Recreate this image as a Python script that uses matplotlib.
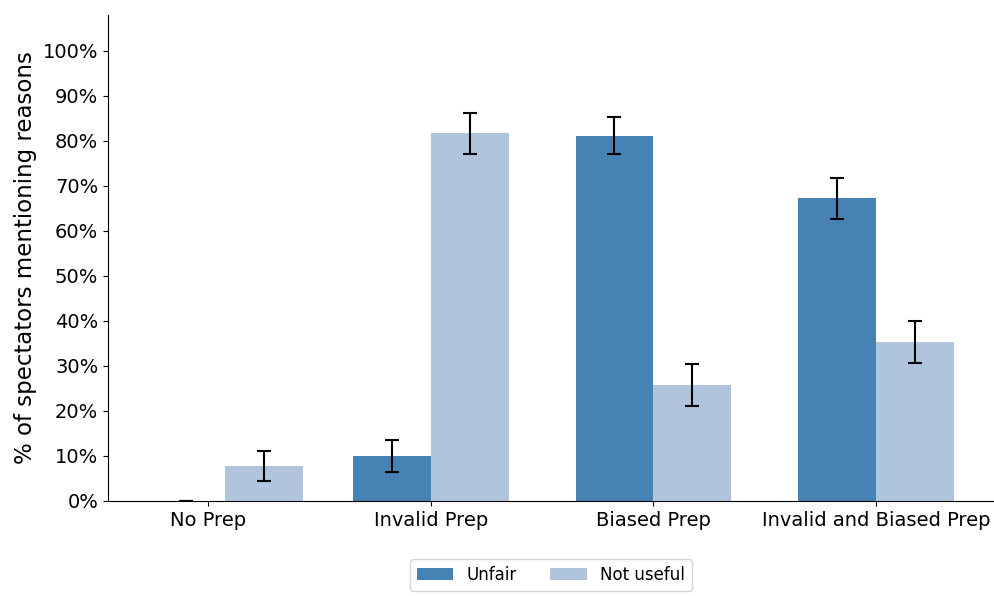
import numpy as np
import matplotlib
matplotlib.use('Agg')
import matplotlib.pyplot as plt
from matplotlib.ticker import PercentFormatter

# share of spectators (%) mentioning each reason, with error margins
conditions = ['No Prep', 'Invalid Prep', 'Biased Prep', 'Invalid and Biased Prep']
unfair     = [0.0, 10.0, 81.2, 67.3]
unfair_err = [0.0, 3.6, 4.05, 4.55]
useless     = [7.8, 81.7, 25.7, 35.3]
useless_err = [3.3, 4.6, 4.7, 4.7]

# bar group centres and label positions
group_x = np.array([0.075, 1, 2, 3])
tick_x = np.arange(len(conditions))
width = 0.35

fig = plt.figure(figsize=(9.94, 5.96), dpi=100)
ax = fig.add_axes([0.1087, 0.1594, 0.8913, 0.8155])

err_kw = dict(ecolor='black', capsize=5, elinewidth=1.5, capthick=1.5)
ax.bar(group_x - width/2, unfair, width, yerr=unfair_err,
       color='steelblue', label='Unfair', error_kw=err_kw)
ax.bar(group_x + width/2, useless, width, yerr=useless_err,
       color='lightsteelblue', label='Not useful', error_kw=err_kw)

ax.set_xticks(tick_x)
ax.set_xticklabels(conditions, fontsize=14)
ax.set_xlim(-0.45, 3.53)
ax.set_ylim(0, 108)
ax.set_yticks(np.arange(0, 101, 10))
ax.yaxis.set_major_formatter(PercentFormatter(xmax=100, decimals=0))
ax.tick_params(axis='y', labelsize=14)
ax.set_ylabel('% of spectators mentioning reasons', fontsize=16.5)

ax.spines['top'].set_visible(False)
ax.spines['right'].set_visible(False)

ax.legend(loc='upper center', bbox_to_anchor=(0.5, -0.103), ncol=2, fontsize=12,
          handlelength=2.2, columnspacing=2.0)

fig.savefig('out.png', dpi=100)
